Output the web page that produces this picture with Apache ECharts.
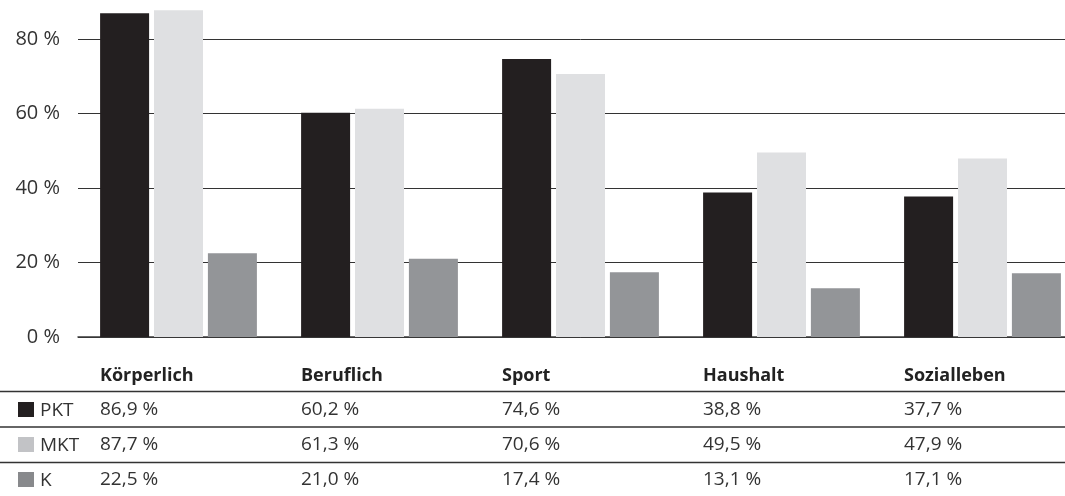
<!DOCTYPE html>
<html>
<head>
<meta charset="utf-8">
<script src="https://cdn.jsdelivr.net/npm/echarts@6/dist/echarts.min.js"></script>
<style>
  html, body { margin: 0; padding: 0; background: #fff; overflow: hidden; width: 1065px; height: 496px; }
  /* the plot runs a little past the window on the top and right, as in the original */
  #main { width: 1083px; height: 532px; margin-top: -36px; }
</style>
</head>
<body>
<div id="main"></div>
<script>
// data
var categories = ['Körperlich', 'Beruflich', 'Sport', 'Haushalt', 'Sozialleben'];
var seriesNames = ['PKT', 'MKT', 'K'];
var pkt = [86.9, 60.2, 74.6, 38.8, 37.7];
var mkt = [87.7, 61.3, 70.6, 49.5, 47.9];
var k = [22.5, 21.0, 17.4, 13.1, 17.1];
var yTicks = [0, 20, 40, 60, 80];

var barColors = ['#231f20', '#dfe0e2', '#939598'];
var swatchColors = ['#231f20', '#c2c3c6', '#88898c'];
var font = '"Open Sans", "Noto Sans", sans-serif';
var textColor = '#333333';
var shiftY = 36; // container is moved up by this much

function fmt(v) {
    return v.toFixed(1).replace('.', ',') + ' %';
}

var myChart = echarts.init(document.getElementById('main'));

var allValues = [pkt, mkt, k];
var series = seriesNames.map(function (name, i) {
    return {
        name: name,
        type: 'bar',
        data: allValues[i],
        barWidth: 49,
        barGap: '10%',
        itemStyle: { color: barColors[i] }
    };
});

myChart.setOption({
    animation: false,
    grid: { left: 78, top: 0.5, right: 0, bottom: 159, containLabel: false },
    xAxis: {
        type: 'category',
        data: categories,
        axisLine: { show: true, lineStyle: { color: '#3a3a3a', width: 1.5 } },
        axisTick: { show: false },
        axisLabel: { show: false }
    },
    yAxis: {
        type: 'value',
        min: 0,
        max: 100,
        interval: 20,
        axisLine: { show: false },
        axisTick: { show: false },
        splitLine: { lineStyle: { color: '#333333', width: 1 } },
        axisLabel: {
            margin: 18,
            fontFamily: font,
            fontSize: 20,
            color: textColor,
            formatter: function (v) {
                return yTicks.indexOf(v) >= 0 ? v + ' %' : '';
            }
        }
    },
    series: series
});

// table below the chart, columns aligned to the bar groups
var groupHalf = (3 * 49 + 2 * 5) / 2;
var headerY = 376 + shiftY;
var rowY = [410, 445, 480].map(function (y) { return y + shiftY; });
var lineY = [391.5, 427, 462.5].map(function (y) { return y + shiftY; });
var elements = [];

lineY.forEach(function (y) {
    elements.push({
        type: 'line',
        shape: { x1: 0, y1: y, x2: 1083, y2: y },
        style: { stroke: '#333333', lineWidth: 1.5 }
    });
});

categories.forEach(function (cat, ci) {
    var cx = myChart.convertToPixel({ xAxisIndex: 0 }, cat);
    var x0 = cx - groupHalf;
    elements.push({
        type: 'text',
        x: x0, y: headerY,
        style: {
            text: cat, font: 'bold 18px ' + font, fill: '#222222',
            textAlign: 'left', textVerticalAlign: 'middle'
        }
    });
    allValues.forEach(function (arr, si) {
        elements.push({
            type: 'text',
            x: x0, y: rowY[si],
            style: {
                text: fmt(arr[ci]), font: '19px ' + font, fill: textColor,
                textAlign: 'left', textVerticalAlign: 'middle'
            }
        });
    });
});

seriesNames.forEach(function (name, si) {
    elements.push({
        type: 'rect',
        shape: { x: 18, y: rowY[si] - 8, width: 16, height: 15 },
        style: { fill: swatchColors[si] }
    });
    elements.push({
        type: 'text',
        x: 40, y: rowY[si] + 1,
        style: {
            text: name, font: '19px ' + font, fill: textColor,
            textAlign: 'left', textVerticalAlign: 'middle'
        }
    });
});

myChart.setOption({ graphic: { elements: elements } });
</script>
</body>
</html>
